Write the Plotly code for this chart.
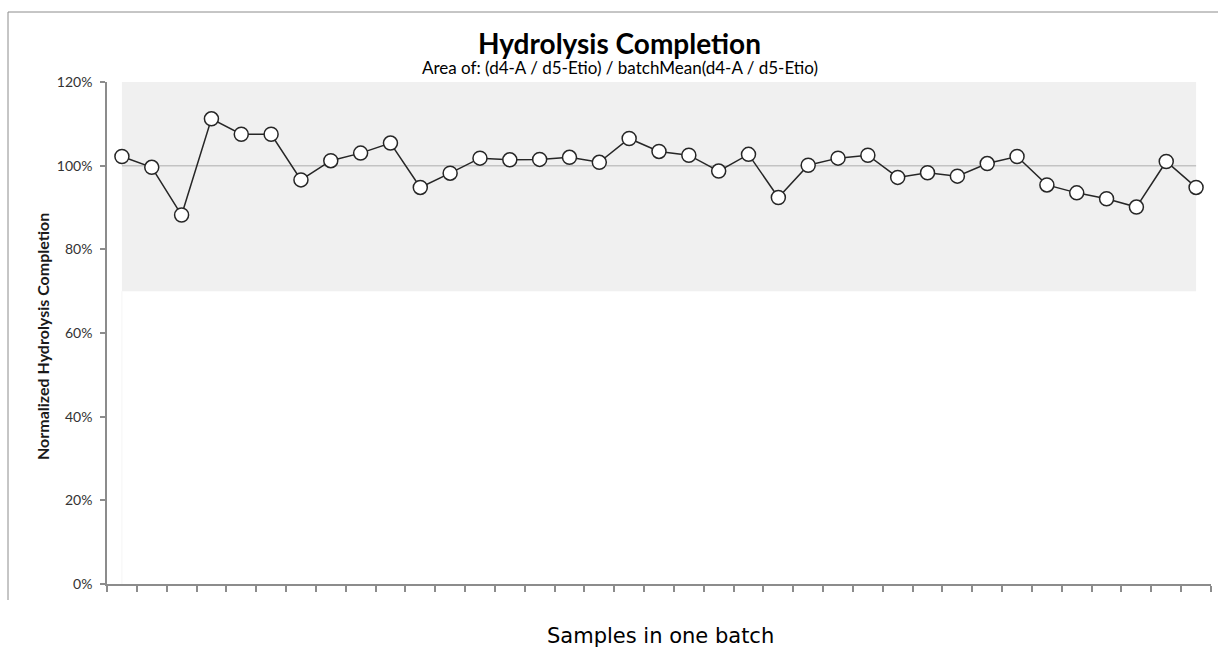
import plotly.graph_objects as go

# ---- data ----
samples = list(range(1, 38))
completion = [102.2, 99.6, 88.2, 111.2, 107.5, 107.5, 96.6, 101.2, 103.0, 105.4,
              94.8, 98.2, 101.8, 101.4, 101.5, 102.0, 100.8, 106.5, 103.4, 102.5,
              98.7, 102.7, 92.4, 100.1, 101.8, 102.5, 97.2, 98.3, 97.5, 100.5,
              102.2, 95.4, 93.5, 92.1, 90.1, 101.0, 94.8]
band_low, band_high = 70, 120
target = 100
y_ticks = [0, 20, 40, 60, 80, 100, 120]

n = len(samples)
xs = list(range(n))
vals = [v / 100 for v in completion]

FONT = "Lato"

fig = go.Figure()

# acceptance band
fig.add_shape(type="rect", xref="x", yref="y", x0=xs[0], x1=xs[-1],
              y0=band_low / 100, y1=band_high / 100,
              fillcolor="#f0f0f0", line_width=0, layer="below")
fig.add_shape(type="line", xref="x", yref="y", x0=xs[0], x1=xs[0],
              y0=0, y1=band_low / 100, line=dict(color="#f5f5f5", width=1), layer="below")

# target line
fig.add_trace(go.Scatter(x=[xs[0], xs[-1]], y=[target / 100, target / 100], mode="lines",
                         line=dict(color="#c3c3c3", width=1.5), hoverinfo="skip",
                         showlegend=False))

# data series
fig.add_trace(go.Scatter(
    x=xs, y=vals, mode="lines+markers",
    line=dict(color="#262626", width=1.5),
    marker=dict(size=14, color="white", line=dict(color="#262626", width=1.5)),
    showlegend=False))

# chart frame (cropped chart border: top and left)
fx0 = (8 - 107) / 1104
fy_top = (584 - 12) / 502
fy_bot = (584 - 600) / 502
fig.add_shape(type="line", xref="paper", yref="paper", x0=fx0, x1=fx0, y0=fy_bot, y1=fy_top,
              line=dict(color="#8c8c8c", width=1))
fig.add_shape(type="line", xref="paper", yref="paper", x0=fx0, x1=1.02, y0=fy_top, y1=fy_top,
              line=dict(color="#8c8c8c", width=1))

fig.add_annotation(text="<b>Hydrolysis Completion</b>", xref="paper", yref="paper",
                   x=(619 - 107) / 1104, y=(584 - 43) / 502, showarrow=False,
                   font=dict(family=FONT, size=28, color="black"), xanchor="center", yanchor="middle")
fig.add_annotation(text="Area of: (d4-A / d5-Etio) / batchMean(d4-A / d5-Etio)", xref="paper", yref="paper",
                   x=(620 - 107) / 1104, y=(584 - 67) / 502, showarrow=False,
                   font=dict(family=FONT, size=17, color="black"), xanchor="center", yanchor="middle")
fig.add_annotation(text="<b>Normalized Hydrolysis Completion</b>", xref="paper", yref="paper",
                   x=(42 - 107) / 1104, y=(584 - 337) / 502, showarrow=False, textangle=-90,
                   font=dict(family=FONT, size=16, color="#1a1a1a"), xanchor="center", yanchor="middle")
fig.add_annotation(text="Samples in one batch", xref="paper", yref="paper",
                   x=(660 - 107) / 1104, y=(584 - 636) / 502, showarrow=False,
                   font=dict(family="DejaVu Sans", size=21, color="black"), xanchor="center", yanchor="middle")

fig.update_layout(
    width=1218, height=648,
    margin=dict(l=107, r=7, t=82, b=64),
    paper_bgcolor="white", plot_bgcolor="white",
    xaxis=dict(range=[-0.5, n - 0.5], showgrid=False, zeroline=False,
               showline=True, linecolor="#8c8c8c", linewidth=1.5,
               tickmode="array", tickvals=[i - 0.5 for i in range(n + 1)],
               ticktext=["" for _ in range(n + 1)],
               ticks="outside", ticklen=6, tickcolor="#8c8c8c", tickwidth=1.5),
    yaxis=dict(range=[0, 1.2], showgrid=False, zeroline=False,
               showline=True, linecolor="#8c8c8c", linewidth=1.5,
               tickmode="array", tickvals=[t / 100 for t in y_ticks],
               ticktext=[f"{t}%" for t in y_ticks],
               ticks="outside", ticklen=5, tickcolor="#8c8c8c", tickwidth=1.5,
               ticklabelstandoff=5,
               tickfont=dict(family=FONT, size=14, color="#333333")),
)

fig.write_html("out.html", config={"displayModeBar": False},
               post_script="document.body.style.margin='0px';document.body.style.overflow='hidden';")
